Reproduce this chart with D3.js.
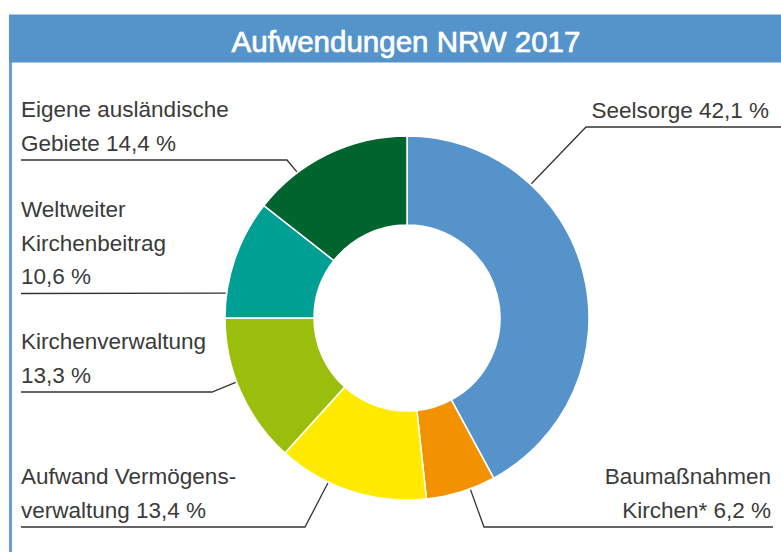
<!DOCTYPE html>
<html>
<head>
<meta charset="utf-8">
<script src="https://cdn.jsdelivr.net/npm/d3@7"></script>
<style>
  html, body { margin: 0; padding: 0; background: #fff; }
  svg { display: block; }
</style>
</head>
<body>
<svg id="chart" width="781" height="552"></svg>
<script>
// data
var categories = ["Seelsorge", "Baumaßnahmen Kirchen*", "Aufwand Vermögensverwaltung", "Kirchenverwaltung", "Weltweiter Kirchenbeitrag", "Eigene ausländische Gebiete"]
var values = [42.1, 6.2, 13.4, 13.3, 10.6, 14.4]
var labelLines = [
    ["Seelsorge 42,1 %"],
    ["Baumaßnahmen", "Kirchen* 6,2 %"],
    ["Aufwand Vermögens-", "verwaltung 13,4 %"],
    ["Kirchenverwaltung", "13,3 %"],
    ["Weltweiter", "Kirchenbeitrag", "10,6 %"],
    ["Eigene ausländische", "Gebiete 14,4 %"]
]
var colors = ["#5793cb", "#f39200", "#ffea00", "#9bbe0c", "#009f94", "#00642f"]
var title = "Aufwendungen NRW 2017"

var width = 781, height = 552
var cx = 407, cy = 318
var outerR = 182, innerR = 93

// where each label sits (layout only)
var layout = [
    {side: "right", x: 769, lineY: 127, lineEnd: 781, elbowX: 586, anchorDeg: 42.8},
    {side: "right", x: 771, lineY: 527, lineEnd: 773, elbowX: 484, anchorDeg: 159.7},
    {side: "left", x: 21, lineY: 527, lineEnd: 21, elbowX: 305, anchorDeg: 205.6},
    {side: "left", x: 21, lineY: 392, lineEnd: 21, elbowX: 212, anchorDeg: 249.4},
    {side: "left", x: 21, lineY: 293.5, lineEnd: 21, elbowX: null, anchorDeg: 277.8},
    {side: "left", x: 21, lineY: 160, lineEnd: 21, elbowX: 287, anchorDeg: 323}
]

var svg = d3.select("#chart")

// frame + header
svg.append("rect")
    .attr("x", 9).attr("y", 62).attr("width", 3).attr("height", height - 62)
    .attr("fill", "#6a9fd6")
svg.append("rect")
    .attr("x", 9).attr("y", 14.5).attr("width", width - 9).attr("height", 48)
    .attr("fill", "#5593cb")
svg.append("text")
    .attr("x", 406).attr("y", 52)
    .attr("text-anchor", "middle")
    .attr("fill", "#fff")
    .attr("stroke", "#fff")
    .attr("stroke-width", 0.7)
    .attr("font-family", "Liberation Sans, Arial, sans-serif")
    .attr("font-size", 29.5)
    .text(title)

var pie = d3.pie().sort(null).value(function(d) { return d })
var arc = d3.arc().innerRadius(innerR).outerRadius(outerR)
var arcs = pie(values)

var g = svg.append("g").attr("transform", "translate(" + cx + "," + cy + ")")
g.selectAll("path")
    .data(arcs)
    .join("path")
    .attr("d", arc)
    .attr("fill", function(d, i) { return colors[i] })
    .attr("stroke", "#fff")
    .attr("stroke-width", 1.5)

// leader lines
var lineGen = d3.line()
svg.selectAll("path.leader")
    .data(layout)
    .join("path")
    .attr("class", "leader")
    .attr("fill", "none")
    .attr("stroke", "#333")
    .attr("stroke-width", 1.3)
    .attr("d", function(d) {
        var p = d3.pointRadial(d.anchorDeg * Math.PI / 180, outerR + 1)
        var pts = [[d.lineEnd, d.lineY]]
        if (d.elbowX != null) pts.push([d.elbowX, d.lineY])
        pts.push([cx + p[0], cy + p[1]])
        return lineGen(pts)
    })

// label text
layout.forEach(function(d, i) {
    var lines = labelLines[i]
    var t = svg.append("text")
        .attr("font-family", "Liberation Sans, Arial, sans-serif")
        .attr("font-size", 22.5)
        .attr("fill", "#3a3a3a")
        .attr("text-anchor", d.side == "right" ? "end" : "start")
    lines.forEach(function(s, j) {
        var base = d.lineY - 9.5 - (lines.length - 1 - j) * 33.5
        t.append("tspan").attr("x", d.x).attr("y", base).text(s)
    })
})
</script>
</body>
</html>
